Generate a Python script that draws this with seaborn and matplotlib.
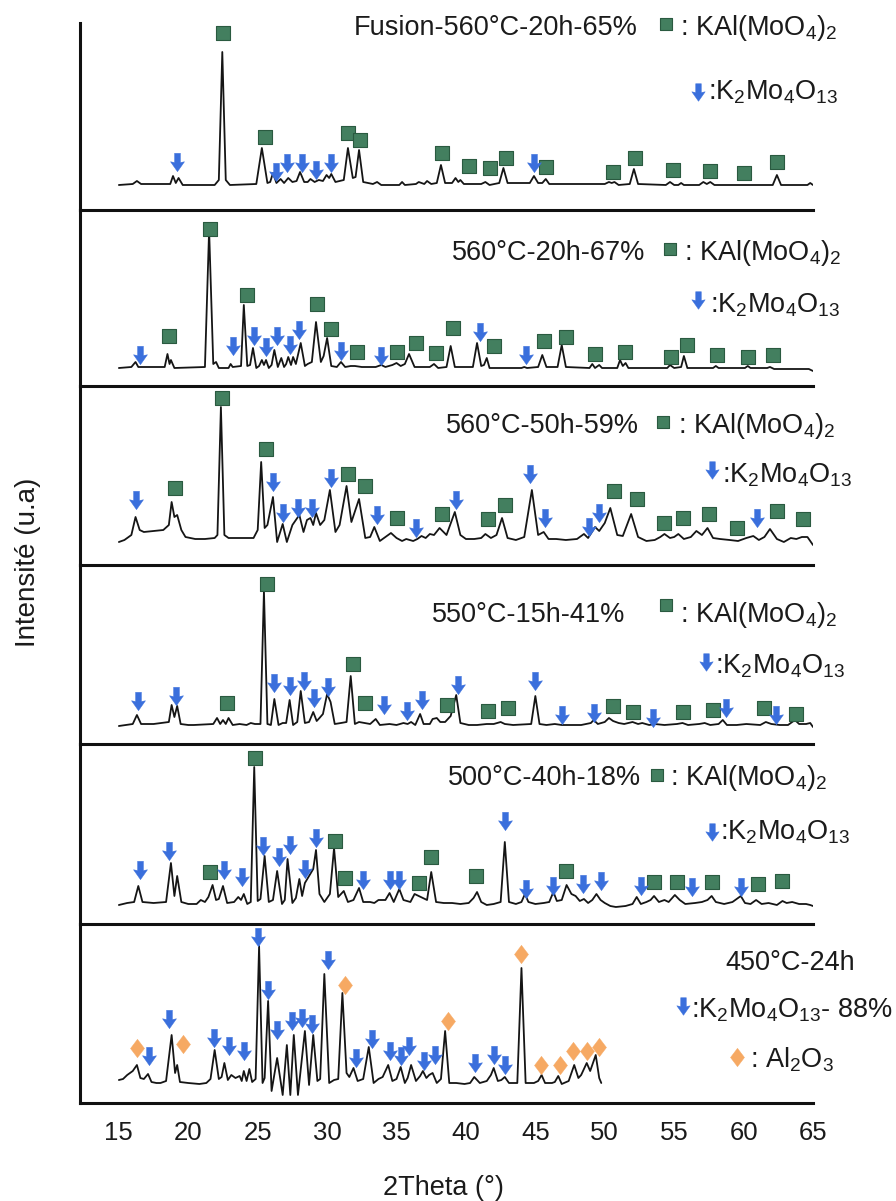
import matplotlib
matplotlib.use("Agg")
import matplotlib.pyplot as plt
from matplotlib.path import Path
import pandas as pd
import seaborn as sns

sns.set_style("white")
plt.rcParams['font.family'] = ['Liberation Sans', 'DejaVu Sans']
plt.rcParams['mathtext.fontset'] = 'custom'
plt.rcParams['mathtext.rm'] = 'Liberation Sans'
plt.rcParams['mathtext.it'] = 'Liberation Sans:italic'
plt.rcParams['mathtext.bf'] = 'Liberation Sans:bold'

# ---------------- data (2theta in degrees, intensity in a.u.) ----------------
tick_values = [15, 20, 25, 30, 35, 40, 45, 50, 55, 60, 65]
sample_names = ["Fusion-560°C-20h-65%", "560°C-20h-67%", "560°C-50h-59%",
                "550°C-15h-41%", "500°C-40h-18%", "450°C-24h"]
phase_kal = r": KAl(MoO$_4$)$_2$"
phase_k2 = r":K$_2$Mo$_4$O$_{13}$"
phase_k2_88 = r":K$_2$Mo$_4$O$_{13}$- 88%"
phase_al = r": Al$_2$O$_3$"

p1 = [(15.0,25),(16.0,26),(16.3,29),(16.6,26),(18.7,26),(18.9,34),(19.1,27),(19.3,32),(19.6,25),
      (21.9,25),(22.2,30),(22.45,158),(22.7,30),(23.0,25),(24.9,26),(25.3,62),(25.7,27),(25.9,28),
      (26.1,37),(26.35,27),(26.65,31),(26.9,27),(27.2,32),(27.5,28),(27.8,29),(28.05,38),(28.35,28),
      (28.6,28),(28.8,31),(29.1,28),(29.4,30),(29.7,29),(29.96,35),(30.15,32),(30.3,36),(30.6,28),
      (31.2,30),(31.5,62),(31.85,32),(32.05,33),(32.3,60),(32.6,28),(33.3,26),(33.6,28),(33.9,25),
      (35.2,25),(35.4,28),(35.6,25),(36.4,26),(36.6,28),(37.0,26),(37.2,29),(37.5,26),(37.9,27),
      (38.2,45),(38.5,27),(39.0,27),(39.25,32),(39.45,28),(39.6,30),(39.85,26),(41.1,26),(41.4,28),
      (41.7,25),(42.4,27),(42.7,42),(43.0,27),(44.6,27),(44.9,34),(45.2,27),(45.5,27),(45.75,31),
      (46.0,26),(50.0,26),(50.3,28),(50.5,27),(50.7,28),(51.0,25),(51.8,26),(52.1,41),(52.4,26),
      (54.4,25),(54.7,28),(55.0,25),(55.3,25),(55.5,27),(55.7,25),(56.8,25),(57.1,28),(57.35,26),
      (57.6,28),(57.9,25),(62.1,25),(62.4,35),(62.7,25),(64.6,25),(64.8,27),(65.0,25)]
p1_squares = [(22.5,177),(25.5,73),(31.5,77),(32.4,70),(38.3,57),(40.2,44),(41.7,42),(42.9,52),
              (45.8,43),(50.6,38),(52.2,52),(54.9,40),(57.6,39),(60.0,37),(62.4,48)]
p1_arrows = [(19.2,48),(26.35,38),(27.1,47),(28.2,47),(29.2,40),(30.3,47),(44.9,47)]

p2 = [(15.0,18),(15.9,19),(16.2,24),(16.4,19),(18.3,19),(18.5,32),(18.65,22),(18.75,26),(19.0,18),
      (21.2,19),(21.5,156),(21.8,22),(22.0,24),(22.2,18),(22.9,18),(23.05,22),(23.2,19),(23.8,20),
      (24.0,81),(24.25,20),(24.45,21),(24.66,38),(24.9,18),(25.1,20),(25.3,26),(25.45,21),(25.6,26),
      (25.8,18),(26.0,21),(26.2,36),(26.45,19),(26.7,28),(26.9,19),(27.05,22),(27.2,29),(27.4,21),
      (27.55,29),(27.75,22),(28.1,43),(28.4,20),(28.6,22),(28.9,24),(29.2,64),(29.55,24),(29.75,30),
      (30.0,48),(30.3,20),(30.7,19),(31.0,24),(31.3,19),(31.7,20),(32.0,20),(32.5,19),(33.5,19),
      (33.9,21),(34.2,19),(34.7,21),(35.0,23),(35.3,20),(35.6,22),(35.9,32),(36.3,19),(37.4,19),
      (37.7,22),(38.0,18),(38.6,19),(38.9,40),(39.2,19),(40.5,19),(40.8,43),(41.1,20),(41.3,21),
      (41.5,28),(41.7,18),(44.0,18),(44.2,19),(44.4,18),(45.2,19),(45.5,31),(45.8,19),(46.6,19),
      (46.9,41),(47.2,19),(48.9,18),(49.1,22),(49.3,18),(49.6,21),(49.8,18),(50.9,18),(51.1,26),
      (51.3,20),(51.5,23),(51.7,18),(54.5,18),(54.7,21),(55.0,18),(55.5,19),(55.7,30),(55.95,18),
      (57.8,18),(58.0,20),(58.2,18),(60.1,18),(60.3,20),(60.5,18),(61.7,18),(61.9,19),(62.2,17),
      (64.7,17),(65.0,15)]
p2_squares = [(18.6,50),(21.55,157),(24.2,91),(29.3,82),(30.3,57),(32.15,34),(35.0,34),(36.4,43),
              (37.85,33),(39.1,58),(42.0,40),(45.6,45),(47.2,49),(49.3,32),(51.45,34),(54.8,29),
              (55.9,41),(58.1,31),(60.3,29),(62.1,31)]
p2_arrows = [(16.5,31),(23.2,40),(24.7,50),(25.6,39),(26.4,50),(27.3,41),(28.0,56),(31.0,35),
             (33.9,30),(41.0,54),(44.3,31)]

p3 = [(15.0,23),(15.4,25),(15.9,30),(16.2,48),(16.5,35),(16.8,33),(17.5,34),(18.2,35),(18.6,40),
      (18.8,63),(19.0,48),(19.2,50),(19.5,35),(19.8,28),(20.5,26),(21.2,26),(21.9,27),(22.1,30),
      (22.35,158),(22.6,30),(22.9,27),(23.5,27),(24.7,27),(25.0,35),(25.25,103),(25.5,37),(25.7,40),
      (26.1,68),(26.4,23),(26.8,41),(27.1,23),(27.5,40),(28.0,50),(28.3,33),(28.55,45),(28.8,47),
      (29.0,40),(29.2,52),(29.5,40),(29.8,45),(30.2,75),(30.6,33),(30.9,40),(31.4,79),(31.75,43),
      (32.3,66),(32.75,27),(33.1,28),(33.4,38),(33.8,24),(34.2,28),(34.6,32),(35.0,27),(35.4,24),
      (35.7,26),(36.2,24),(36.5,26),(36.8,29),(37.1,27),(37.4,31),(37.7,30),(38.1,37),(38.6,30),
      (39.2,53),(39.6,30),(40.0,26),(40.6,26),(41.1,27),(41.4,31),(41.8,27),(42.2,30),(42.6,47),
      (43.0,27),(43.6,25),(44.2,28),(44.75,75),(45.2,30),(45.6,33),(45.95,26),(46.5,26),(47.2,25),
      (48.0,26),(48.5,31),(48.8,27),(49.3,38),(49.6,34),(50.0,42),(50.4,57),(50.9,30),(51.3,29),
      (51.9,51),(52.4,28),(53.0,24),(53.6,25),(54.0,28),(54.3,31),(54.7,27),(55.0,28),(55.3,31),
      (55.7,26),(56.2,28),(56.6,34),(57.0,30),(57.4,37),(57.8,27),(58.3,26),(59.0,25),(59.6,24),
      (60.2,27),(60.7,29),(61.1,25),(61.5,28),(61.9,36),(62.4,26),(62.9,23),(63.4,27),(63.8,26),
      (64.2,28),(64.6,28),(65.0,20)]
p3_squares = [(19.05,77),(22.4,167),(25.6,116),(31.5,91),(32.75,79),(35.0,47),(38.3,51),(41.6,46),
              (42.8,60),(50.65,74),(52.3,66),(54.3,42),(55.6,47),(57.5,51),(59.5,37),(62.4,54),(64.3,46)]
p3_arrows = [(16.2,65),(26.1,83),(26.8,52),(27.9,57),(28.9,57),(30.3,87),(33.6,50),(36.4,37),
             (39.3,65),(44.6,91),(45.7,47),(48.9,38),(49.6,52),(61.0,47)]

p4 = [(15.0,18),(15.5,19),(16.0,20),(16.3,29),(16.6,20),(17.5,20),(18.6,22),(18.8,39),(19.0,27),
      (19.2,38),(19.45,20),(20.0,19),(20.4,19),(21.8,20),(22.07,26),(22.3,20),(22.5,24),(22.7,20),
      (22.9,26),(23.2,19),(23.7,20),(24.2,19),(24.5,21),(24.8,20),(25.2,20),(25.45,153),(25.7,20),
      (25.95,19),(26.2,45),(26.5,19),(26.8,21),(27.05,21),(27.3,44),(27.55,19),(27.85,22),(28.1,53),
      (28.4,21),(28.7,22),(29.0,32),(29.25,23),(29.45,26),(29.7,30),(30.0,50),(30.25,42),(30.55,20),
      (31.0,21),(31.4,22),(31.7,68),(32.0,20),(32.3,22),(32.7,21),(33.1,20),(33.5,25),(33.8,19),
      (34.5,20),(35.0,19),(35.5,21),(35.8,20),(36.05,22),(36.35,19),(36.7,30),(36.95,20),(37.4,20),
      (37.6,25),(37.9,26),(38.15,22),(38.5,22),(38.9,28),(39.3,49),(39.6,21),(40.2,19),(40.8,19),
      (41.5,20),(42.0,20),(42.5,22),(42.8,20),(43.4,19),(44.7,20),(45.0,48),(45.3,20),(45.8,19),
      (46.4,20),(46.9,19),(47.5,19),(48.3,19),(49.0,21),(49.2,24),(49.5,20),(50.0,22),(50.3,26),
      (50.6,23),(51.0,21),(51.4,20),(52.0,22),(52.4,20),(52.7,21),(53.2,19),(53.6,20),(54.3,19),
      (55.2,20),(55.6,21),(56.0,19),(56.8,20),(57.2,21),(57.6,19),(58.2,20),(58.5,24),(58.8,19),
      (59.5,19),(60.2,20),(61.2,19),(61.6,22),(62.0,20),(62.6,19),(63.2,19),(63.7,24),(64.0,20),
      (64.5,20),(64.8,21),(65.0,17)]
p4_squares = [(22.8,41),(25.7,160),(31.9,80),(32.7,41),(38.6,39),(41.6,33),(43.0,36),(50.6,38),
              (52.0,32),(55.6,32),(57.8,34),(61.5,36),(63.8,30)]
p4_arrows = [(16.4,43),(19.1,48),(26.2,61),(27.3,58),(28.35,63),(29.05,46),(30.1,57),(34.1,39),
             (35.75,33),(36.8,44),(39.4,59),(45.0,63),(46.9,29),(49.2,31),(53.5,26),(58.7,36),(62.3,29)]

p5 = [(15.0,19),(15.6,21),(16.1,22),(16.4,38),(16.7,22),(17.5,21),(18.4,22),(18.75,61),(19.0,28),
      (19.2,48),(19.5,22),(20.0,20),(20.6,20),(20.9,24),(21.2,22),(21.45,27),(21.75,39),(22.0,24),
      (22.2,25),(22.5,38),(22.8,21),(23.3,22),(23.6,27),(23.8,24),(24.0,30),(24.25,20),(24.5,22),
      (24.75,157),(25.0,23),(25.2,25),(25.5,68),(25.8,22),(26.1,24),(26.4,53),(26.75,20),(26.95,24),
      (27.15,65),(27.5,21),(27.75,26),(28.0,45),(28.2,28),(28.4,41),(28.7,48),(29.0,55),(29.2,74),
      (29.45,30),(29.8,22),(30.2,30),(30.5,76),(30.8,27),(31.2,33),(31.5,22),(31.9,24),(32.3,36),
      (32.6,22),(33.1,22),(33.4,21),(33.7,24),(34.2,24),(34.5,31),(34.8,22),(35.2,35),(35.5,24),
      (36.0,22),(36.3,30),(36.6,28),(36.9,26),(37.2,24),(37.5,52),(37.85,22),(38.4,21),(39.0,21),
      (39.6,20),(40.2,21),(40.55,26),(40.8,32),(41.1,22),(41.5,19),(42.0,20),(42.5,22),(42.8,82),
      (43.1,22),(43.6,20),(44.0,22),(44.25,30),(44.5,22),(45.0,20),(45.6,21),(46.0,22),(46.3,32),
      (46.55,23),(46.9,24),(47.25,39),(47.6,30),(47.9,28),(48.2,23),(48.5,25),(48.8,21),(49.1,24),
      (49.4,30),(49.7,24),(50.0,21),(50.4,18),(50.8,17),(51.5,18),(52.0,20),(52.3,27),(52.6,20),
      (53.0,22),(53.3,24),(53.55,28),(53.9,22),(54.3,24),(54.6,22),(55.05,29),(55.4,24),(55.8,20),
      (56.5,21),(57.0,22),(57.4,24),(57.7,28),(58.0,22),(58.6,20),(59.2,22),(59.8,28),(60.1,21),
      (60.5,20),(60.9,24),(61.3,20),(61.8,21),(62.4,19),(62.8,23),(63.1,21),(63.5,22),(64.0,20),
      (64.5,20),(64.8,19),(65.0,18)]
p5_squares = [(21.6,52),(24.8,166),(30.6,83),(31.3,46),(36.65,41),(37.5,67),(40.7,48),(47.2,53),
              (53.55,42),(55.2,42),(57.7,42),(61.05,40),(62.8,43)]
p5_arrows = [(16.5,54),(18.6,73),(22.6,54),(23.9,47),(25.4,78),(26.5,67),(27.35,79),(28.4,55),
             (29.2,86),(32.6,44),(34.5,44),(35.2,44),(42.8,103),(44.3,35),(46.3,38),(48.4,40),
             (49.7,43),(52.6,38),(56.25,37),(59.8,37)]

p6 = [(15.0,23),(15.3,24),(15.6,28),(15.8,30),(16.0,32),(16.3,38),(16.55,25),(16.8,24),(17.1,29),
      (17.35,21),(17.7,20),(18.0,20),(18.4,22),(18.8,68),(19.05,30),(19.2,38),(19.4,21),(20.0,20),
      (20.8,19),(21.3,20),(21.6,24),(21.9,53),(22.2,24),(22.4,26),(22.6,40),(22.85,23),(23.1,28),
      (23.4,25),(23.7,27),(23.85,22),(24.0,32),(24.2,22),(24.4,34),(24.6,21),(24.85,24),(25.1,157),
      (25.35,20),(25.5,25),(25.75,102),(26.0,12),(26.4,45),(26.8,8),(27.1,58),(27.35,8),(27.6,68),
      (27.9,8),(28.4,72),(28.7,18),(29.0,68),(29.3,22),(29.5,24),(29.8,129),(30.15,20),(30.5,23),
      (30.8,24),(31.1,110),(31.4,30),(31.6,26),(31.9,35),(32.2,22),(32.6,24),(33.0,56),(33.35,20),
      (33.7,24),(34.0,26),(34.4,38),(34.7,22),(35.0,24),(35.3,36),(35.6,20),(35.8,25),(36.05,38),
      (36.4,22),(36.7,27),(36.9,32),(37.15,25),(37.35,28),(37.6,30),(37.9,20),(38.2,24),(38.5,72),
      (38.8,20),(39.3,20),(39.9,19),(40.3,20),(40.6,26),(41.0,20),(41.5,22),(41.8,28),(42.0,35),
      (42.3,22),(42.55,23),(42.8,26),(43.1,20),(43.7,20),(44.0,135),(44.3,20),(44.9,20),(45.2,22),
      (45.45,28),(45.7,20),(46.2,20),(46.4,21),(46.65,27),(46.9,19),(47.4,22),(47.8,38),(48.1,25),
      (48.3,28),(48.7,40),(48.95,32),(49.35,48),(49.6,25),(49.75,20)]
p6_diamonds = [(16.3,55),(19.6,59),(31.3,118),(38.7,82),(44.0,149),(45.4,38),(46.75,38),(47.7,52),
               (48.7,52),(49.6,56)]
p6_arrows = [(17.2,47),(18.6,84),(21.85,65),(22.9,57),(24.0,52),(25.0,166),(25.75,113),(26.4,73),
             (27.5,82),(28.2,85),(28.9,79),(30.05,143),(32.1,45),(33.2,64),(34.55,52),(35.3,47),
             (35.9,57),(37.0,42),(37.8,48),(40.65,40),(42.05,48),(42.8,38)]

# ---------------- layout / style ----------------
W, H = 896, 1201
AX_LEFT, AX_RIGHT = 80, 813
AXIS_Y = [210, 386, 565, 744, 924, 1103]
TOP_Y = [23, 210, 386, 565, 744, 924]
XMIN, XMAX = 12.2, 65.0

SQ_FACE, SQ_EDGE = '#437f5f', '#2a5a40'
ARROW_C = '#3a6fdc'
DIAM_C = '#f6a963'
TXT_C = '#1b1b1b'

ARROW = Path([(-0.16, 0.5), (0.16, 0.5), (0.16, 0.0), (0.38, 0.04), (0.0, -0.5),
              (-0.38, 0.04), (-0.16, 0.0), (-0.16, 0.5)],
             [Path.MOVETO] + [Path.LINETO] * 6 + [Path.CLOSEPOLY])
DIAMOND = Path([(0, 0.5), (0.38, 0), (0, -0.5), (-0.38, 0), (0, 0.5)],
               [Path.MOVETO, Path.LINETO, Path.LINETO, Path.LINETO, Path.CLOSEPOLY])

S_SQ, S_AR, S_DI = 100, 175, 175

fig = plt.figure(figsize=(W / 100, H / 100), dpi=100)

panels = [
    dict(line=p1, sq=p1_squares, ar=p1_arrows, di=[]),
    dict(line=p2, sq=p2_squares, ar=p2_arrows, di=[]),
    dict(line=p3, sq=p3_squares, ar=p3_arrows, di=[]),
    dict(line=p4, sq=p4_squares, ar=p4_arrows, di=[]),
    dict(line=p5, sq=p5_squares, ar=p5_arrows, di=[]),
    dict(line=p6, sq=[], ar=p6_arrows, di=p6_diamonds),
]


def scatter(ax, pts, marker, s, face, edge, lw):
    if not pts:
        return
    df = pd.DataFrame(pts, columns=['x', 'y'])
    sns.scatterplot(data=df, x='x', y='y', ax=ax, marker=marker, s=s, color=face,
                    edgecolor=edge, linewidth=lw, clip_on=False, zorder=5, legend=False)


for i, P in enumerate(panels):
    b, t = AXIS_Y[i], TOP_Y[i]
    ax = fig.add_axes([AX_LEFT / W, 1 - b / H, (AX_RIGHT - AX_LEFT) / W, (b - t) / H])
    ax.patch.set_alpha(0)
    df = pd.DataFrame(P['line'], columns=['two_theta', 'intensity'])
    sns.lineplot(data=df, x='two_theta', y='intensity', ax=ax, color='#151515', lw=1.3,
                 estimator=None, sort=False)
    scatter(ax, P['sq'], 's', S_SQ, SQ_FACE, SQ_EDGE, 0.8)
    scatter(ax, P['ar'], ARROW, S_AR, ARROW_C, ARROW_C, 0.3)
    scatter(ax, P['di'], DIAMOND, S_DI, DIAM_C, DIAM_C, 0.3)
    ax.set_xlim(XMIN, XMAX)
    ax.set_ylim(0, b - t)
    for side in ['top', 'right']:
        ax.spines[side].set_visible(False)
    for side in ['left', 'bottom']:
        ax.spines[side].set_visible(True)
        ax.spines[side].set_linewidth(2.2)
        ax.spines[side].set_color('#111111')
    ax.set_yticks([])
    ax.set_xticks(tick_values)
    ax.tick_params(axis='x', direction='in', length=10.5, width=1.6, color='#111111',
                   pad=13, labelsize=18.5, labelcolor=TXT_C)
    if i < 5:
        ax.tick_params(axis='x', labelbottom=False)
    ax.set_xlabel('')
    ax.set_ylabel('')

# overlay in pixel coordinates for the phase keys
ov = fig.add_axes([0, 0, 1, 1])
ov.set_xlim(0, W)
ov.set_ylim(H, 0)
ov.axis('off')
ov.patch.set_alpha(0)


def ftext(x, y, s, ha='left', size=19.5, **kw):
    fig.text(x / W, 1 - y / H, s, ha=ha, va='baseline', fontsize=size, color=TXT_C, **kw)


# (name right edge, baseline1, square x, square y, key text x, arrow x, arrow y, key2 x, baseline2)
keys = [
    (638, 35, 666, 24, 680, 698, 92, 708, 100),
    (645, 260, 670, 249, 684, 698, 300, 710, 313),
    (639, 433, 663, 422, 678, 712, 470, 722, 482),
    (625, 622, 666, 605, 680, 706, 662, 715, 673),
    (641, 785, 657, 775, 670, 712, 832, 720, 840),
]
legend_sq, legend_ar = [], []
for i, (nx, b1, sx, sy, kx, axx, ay, k2x, b2) in enumerate(keys):
    ftext(nx, b1, sample_names[i], ha='right')
    ftext(kx, b1, phase_kal)
    ftext(k2x, b2, phase_k2)
    legend_sq.append((sx, sy))
    legend_ar.append((axx, ay))

ftext(855, 970, sample_names[5], ha='right')
ftext(893, 1018, phase_k2_88, ha='right')
legend_ar.append((683, 1006))
ftext(750, 1067, phase_al)

scatter(ov, legend_sq, 's', 80, SQ_FACE, SQ_EDGE, 0.8)
scatter(ov, legend_ar, ARROW, 160, ARROW_C, ARROW_C, 0.3)
scatter(ov, [(737, 1057)], DIAMOND, 175, DIAM_C, DIAM_C, 0.3)

fig.text(443 / W, 1 - 1188 / H, "2Theta (°)", ha='center', va='center', fontsize=19.5, color=TXT_C)
fig.text(28 / W, 1 - 562 / H, "Intensité (u.a)", ha='center', va='center', rotation=90,
         fontsize=20, color=TXT_C)

fig.savefig("out.png", dpi=100)
